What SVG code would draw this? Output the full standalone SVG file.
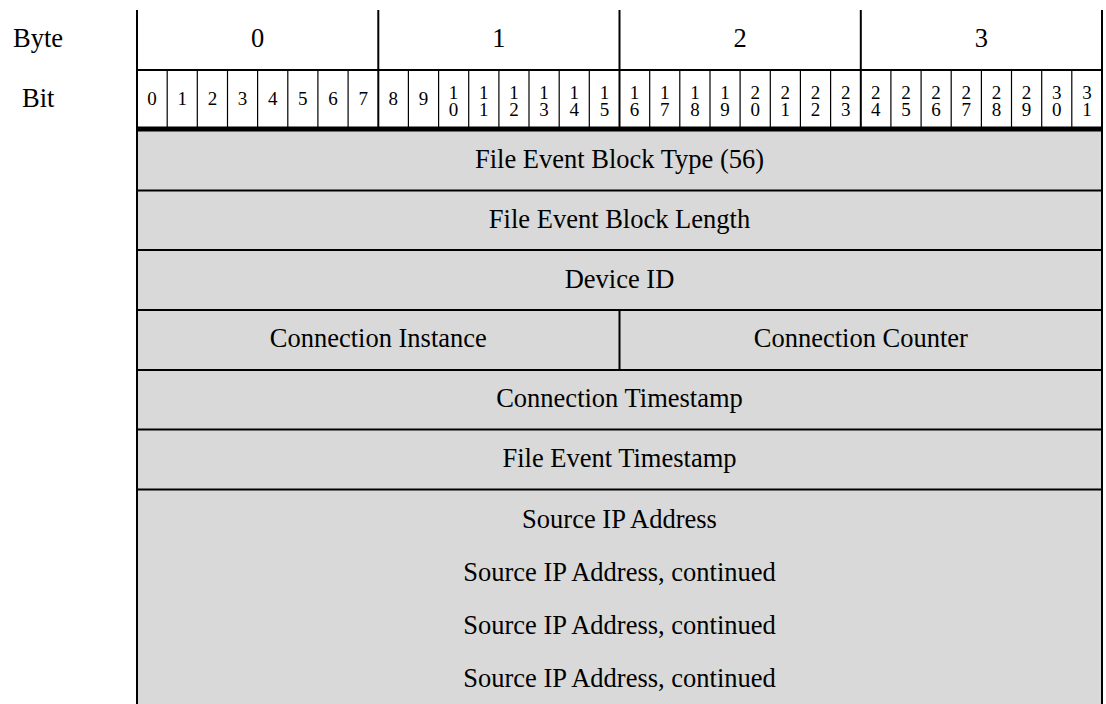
<svg xmlns="http://www.w3.org/2000/svg" width="1106" height="704" viewBox="0 0 1106 704">
<style>
text{font-family:"Liberation Serif","Times New Roman",serif;fill:#000}
.lbl{font-size:26.5px}
.ctr{font-size:26.5px;text-anchor:middle}
.bit{font-size:19px;text-anchor:middle}
.thin{stroke:#000;stroke-width:1.2}
.mid{stroke:#000;stroke-width:2}
.fill{fill:#d9d9d9}
</style>
<rect width="1106" height="704" fill="#fff"/>
<g id="side-labels">
<text class="lbl" x="13" y="47">Byte</text>
<text class="lbl" x="22" y="107">Bit</text>
</g>
<g id="header">
<line class="mid" x1="137" y1="70" x2="1102" y2="70"/>
<line class="mid" x1="378.3" y1="10" x2="378.3" y2="128"/>
<line class="mid" x1="619.5" y1="10" x2="619.5" y2="128"/>
<line class="mid" x1="860.8" y1="10" x2="860.8" y2="128"/>
<text class="ctr" x="257.6" y="47">0</text>
<text class="ctr" x="498.9" y="47">1</text>
<text class="ctr" x="740.1" y="47">2</text>
<text class="ctr" x="981.4" y="47">3</text>
<g class="thin">
<line x1="167.2" y1="70" x2="167.2" y2="128"/>
<line x1="197.3" y1="70" x2="197.3" y2="128"/>
<line x1="227.5" y1="70" x2="227.5" y2="128"/>
<line x1="257.6" y1="70" x2="257.6" y2="128"/>
<line x1="287.8" y1="70" x2="287.8" y2="128"/>
<line x1="317.9" y1="70" x2="317.9" y2="128"/>
<line x1="348.1" y1="70" x2="348.1" y2="128"/>
<line x1="408.4" y1="70" x2="408.4" y2="128"/>
<line x1="438.6" y1="70" x2="438.6" y2="128"/>
<line x1="468.7" y1="70" x2="468.7" y2="128"/>
<line x1="498.9" y1="70" x2="498.9" y2="128"/>
<line x1="529.0" y1="70" x2="529.0" y2="128"/>
<line x1="559.2" y1="70" x2="559.2" y2="128"/>
<line x1="589.3" y1="70" x2="589.3" y2="128"/>
<line x1="649.7" y1="70" x2="649.7" y2="128"/>
<line x1="679.8" y1="70" x2="679.8" y2="128"/>
<line x1="710.0" y1="70" x2="710.0" y2="128"/>
<line x1="740.1" y1="70" x2="740.1" y2="128"/>
<line x1="770.3" y1="70" x2="770.3" y2="128"/>
<line x1="800.4" y1="70" x2="800.4" y2="128"/>
<line x1="830.6" y1="70" x2="830.6" y2="128"/>
<line x1="890.9" y1="70" x2="890.9" y2="128"/>
<line x1="921.1" y1="70" x2="921.1" y2="128"/>
<line x1="951.2" y1="70" x2="951.2" y2="128"/>
<line x1="981.4" y1="70" x2="981.4" y2="128"/>
<line x1="1011.5" y1="70" x2="1011.5" y2="128"/>
<line x1="1041.7" y1="70" x2="1041.7" y2="128"/>
<line x1="1071.8" y1="70" x2="1071.8" y2="128"/>
</g>
<g id="bit-numbers">
<text class="bit" x="152.1" y="105">0</text>
<text class="bit" x="182.2" y="105">1</text>
<text class="bit" x="212.4" y="105">2</text>
<text class="bit" x="242.5" y="105">3</text>
<text class="bit" x="272.7" y="105">4</text>
<text class="bit" x="302.8" y="105">5</text>
<text class="bit" x="333.0" y="105">6</text>
<text class="bit" x="363.2" y="105">7</text>
<text class="bit" x="393.3" y="105">8</text>
<text class="bit" x="423.5" y="105">9</text>
<text class="bit" x="453.6"><tspan x="453.6" y="99">1</tspan><tspan x="453.6" y="116">0</tspan></text>
<text class="bit" x="483.8"><tspan x="483.8" y="99">1</tspan><tspan x="483.8" y="116">1</tspan></text>
<text class="bit" x="513.9"><tspan x="513.9" y="99">1</tspan><tspan x="513.9" y="116">2</tspan></text>
<text class="bit" x="544.1"><tspan x="544.1" y="99">1</tspan><tspan x="544.1" y="116">3</tspan></text>
<text class="bit" x="574.2"><tspan x="574.2" y="99">1</tspan><tspan x="574.2" y="116">4</tspan></text>
<text class="bit" x="604.4"><tspan x="604.4" y="99">1</tspan><tspan x="604.4" y="116">5</tspan></text>
<text class="bit" x="634.6"><tspan x="634.6" y="99">1</tspan><tspan x="634.6" y="116">6</tspan></text>
<text class="bit" x="664.7"><tspan x="664.7" y="99">1</tspan><tspan x="664.7" y="116">7</tspan></text>
<text class="bit" x="694.9"><tspan x="694.9" y="99">1</tspan><tspan x="694.9" y="116">8</tspan></text>
<text class="bit" x="725.0"><tspan x="725.0" y="99">1</tspan><tspan x="725.0" y="116">9</tspan></text>
<text class="bit" x="755.2"><tspan x="755.2" y="99">2</tspan><tspan x="755.2" y="116">0</tspan></text>
<text class="bit" x="785.3"><tspan x="785.3" y="99">2</tspan><tspan x="785.3" y="116">1</tspan></text>
<text class="bit" x="815.5"><tspan x="815.5" y="99">2</tspan><tspan x="815.5" y="116">2</tspan></text>
<text class="bit" x="845.7"><tspan x="845.7" y="99">2</tspan><tspan x="845.7" y="116">3</tspan></text>
<text class="bit" x="875.8"><tspan x="875.8" y="99">2</tspan><tspan x="875.8" y="116">4</tspan></text>
<text class="bit" x="906.0"><tspan x="906.0" y="99">2</tspan><tspan x="906.0" y="116">5</tspan></text>
<text class="bit" x="936.1"><tspan x="936.1" y="99">2</tspan><tspan x="936.1" y="116">6</tspan></text>
<text class="bit" x="966.3"><tspan x="966.3" y="99">2</tspan><tspan x="966.3" y="116">7</tspan></text>
<text class="bit" x="996.4"><tspan x="996.4" y="99">2</tspan><tspan x="996.4" y="116">8</tspan></text>
<text class="bit" x="1026.6"><tspan x="1026.6" y="99">2</tspan><tspan x="1026.6" y="116">9</tspan></text>
<text class="bit" x="1056.8"><tspan x="1056.8" y="99">3</tspan><tspan x="1056.8" y="116">0</tspan></text>
<text class="bit" x="1086.9"><tspan x="1086.9" y="99">3</tspan><tspan x="1086.9" y="116">1</tspan></text>
</g>
</g>
<rect class="fill" x="137" y="131" width="965" height="573"/>
<rect x="137" y="126.5" width="966" height="5" fill="#000"/>
<g id="row-type"><text class="ctr" x="619.5" y="168">File Event Block Type (56)</text></g>
<line class="mid" x1="137" y1="190.5" x2="1102" y2="190.5"/>
<g id="row-length"><text class="ctr" x="619.5" y="228">File Event Block Length</text></g>
<line class="mid" x1="137" y1="250" x2="1102" y2="250"/>
<g id="row-device"><text class="ctr" x="619.5" y="288">Device ID</text></g>
<line class="mid" x1="137" y1="310" x2="1102" y2="310"/>
<g id="row-conn-instance"><text class="ctr" x="378.3" y="347">Connection Instance</text></g>
<g id="row-conn-counter"><text class="ctr" x="860.8" y="347">Connection Counter</text></g>
<line class="mid" x1="619.5" y1="310" x2="619.5" y2="370"/>
<line class="mid" x1="137" y1="370" x2="1102" y2="370"/>
<g id="row-conn-ts"><text class="ctr" x="619.5" y="407">Connection Timestamp</text></g>
<line class="mid" x1="137" y1="429.5" x2="1102" y2="429.5"/>
<g id="row-file-ts"><text class="ctr" x="619.5" y="467">File Event Timestamp</text></g>
<line class="mid" x1="137" y1="489.5" x2="1102" y2="489.5"/>
<g id="row-source-ip">
<text class="ctr" x="619.5" y="528">Source IP Address</text>
<text class="ctr" x="619.5" y="581">Source IP Address, continued</text>
<text class="ctr" x="619.5" y="634">Source IP Address, continued</text>
<text class="ctr" x="619.5" y="687">Source IP Address, continued</text>
</g>
<line class="mid" x1="137" y1="10" x2="137" y2="704"/>
<line class="mid" x1="1102" y1="10" x2="1102" y2="704"/>
</svg>
